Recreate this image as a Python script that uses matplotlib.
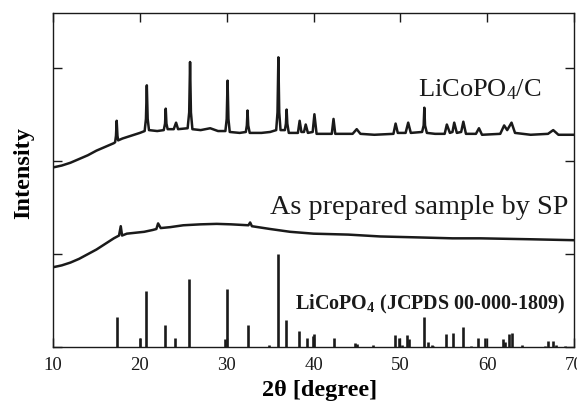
import matplotlib
matplotlib.use("Agg")
import matplotlib.pyplot as plt

plt.rcParams['font.family'] = ['Liberation Serif', 'DejaVu Serif']
plt.rcParams['mathtext.fontset'] = 'custom'
plt.rcParams['mathtext.rm'] = 'Liberation Serif'
plt.rcParams['mathtext.it'] = 'Liberation Serif:italic'
plt.rcParams['mathtext.bf'] = 'Liberation Serif:bold'

# LiCoPO4/C pattern (2theta, intensity offset units)
coated_x = [10.0, 11.0, 12.0, 13.0, 14.0, 15.0, 16.0, 17.0, 17.15, 17.25, 17.33, 17.42, 17.5, 18.0,
            19.0, 20.0, 20.55, 20.7, 20.8, 20.9, 21.05, 22.0, 22.75, 22.9, 22.98, 23.06, 23.2,
            23.9, 24.17, 24.4, 25.5, 25.68, 25.78, 25.88, 26.05, 27.0, 28.1, 29.0, 29.85, 30.0,
            30.1, 30.2, 30.35, 31.5, 32.2, 32.32, 32.4, 32.48, 32.65, 34.0, 35.0, 35.7, 35.85,
            35.95, 36.05, 36.2, 36.7, 36.82, 36.9, 36.98, 37.15, 38.2, 38.4, 38.6, 38.9, 39.1,
            39.35, 39.9, 40.1, 40.35, 42.1, 42.3, 42.5, 44.5, 44.97, 45.4, 47.0, 49.2, 49.45, 49.7,
            50.6, 50.9, 51.2, 52.5, 52.68, 52.76, 52.84, 53.05, 54.0, 55.1, 55.35, 55.7, 56.0, 56.2,
            56.5, 57.0, 57.25, 57.55, 58.7, 59.05, 59.4, 61.5, 61.95, 62.3, 62.55, 62.8, 63.2, 65.0,
            67.0, 67.6, 68.2, 70.0]
coated_y = [1.93, 1.95, 1.98, 2.02, 2.06, 2.11, 2.15, 2.19, 2.20, 2.27, 2.43, 2.27, 2.22, 2.24,
            2.27, 2.30, 2.32, 2.45, 2.81, 2.45, 2.33, 2.32, 2.33, 2.40, 2.56, 2.40, 2.34,
            2.34, 2.41, 2.34, 2.35, 2.52, 3.06, 2.52, 2.34, 2.33, 2.35, 2.32, 2.32, 2.45,
            2.86, 2.45, 2.31, 2.30, 2.31, 2.38, 2.54, 2.38, 2.30, 2.30, 2.31, 2.33, 2.52,
            3.11, 2.52, 2.33, 2.33, 2.40, 2.55, 2.40, 2.30, 2.30, 2.43, 2.31, 2.31, 2.39,
            2.30, 2.31, 2.50, 2.29, 2.29, 2.45, 2.29, 2.29, 2.34, 2.29, 2.28, 2.29, 2.40, 2.30,
            2.30, 2.41, 2.30, 2.31, 2.38, 2.57, 2.38, 2.30, 2.29, 2.29, 2.39, 2.30, 2.31, 2.41,
            2.30, 2.31, 2.42, 2.29, 2.29, 2.35, 2.28, 2.29, 2.38, 2.33, 2.37, 2.41, 2.30, 2.28,
            2.29, 2.33, 2.28, 2.28]

# As prepared sample by SP
asprep_x = [10.0, 11.0, 12.0, 13.0, 14.0, 15.0, 16.0, 17.0, 17.6, 17.8, 17.95, 18.5, 19.5, 20.5,
            21.5, 21.9, 22.1, 22.4, 23.5, 25.0, 27.0, 28.85, 30.5, 32.5, 32.7, 32.9, 35.0, 37.3,
            40.0, 44.0, 47.7, 52.0, 56.0, 59.2, 65.0, 70.0]
asprep_y = [0.86, 0.88, 0.91, 0.95, 1.00, 1.05, 1.11, 1.17, 1.20, 1.30, 1.20, 1.22, 1.23, 1.24,
            1.26, 1.27, 1.33, 1.28, 1.29, 1.31, 1.32, 1.325, 1.32, 1.31, 1.34, 1.30, 1.27, 1.24,
            1.22, 1.21, 1.19, 1.18, 1.17, 1.17, 1.16, 1.15]

# JCPDS reference sticks
ref_pos = [17.33, 20.0, 20.75, 22.93, 24.1, 25.7, 29.8, 30.07, 32.46, 34.9, 35.9, 36.87, 38.33,
           39.3, 39.9, 40.1, 42.3, 44.8, 45.0, 46.9, 49.4, 49.85, 50.2, 50.8, 51.0, 52.76, 53.2,
           53.6, 53.8, 55.2, 56.1, 57.2, 58.1, 58.98, 59.8, 61.86, 62.1, 62.55, 62.8, 63.97,
           66.6, 67.05, 67.6, 67.9, 68.97]
ref_int = [0.33, 0.10, 0.61, 0.24, 0.10, 0.73, 0.09, 0.63, 0.245, 0.03, 1.0, 0.29, 0.18,
           0.10, 0.12, 0.145, 0.105, 0.05, 0.04, 0.03, 0.135, 0.10, 0.03, 0.13, 0.09, 0.33, 0.06,
           0.03, 0.02, 0.145, 0.16, 0.22, 0.02, 0.105, 0.10, 0.09, 0.06, 0.14, 0.15, 0.025,
           0.02, 0.07, 0.07, 0.03, 0.02]

xticks = [10, 20, 30, 40, 50, 60, 70]
yticks = [0, 1, 2, 3]

fig = plt.figure(figsize=(5.77, 4.05), dpi=100)
ax = fig.add_axes([0.0919, 0.142, 0.903, 0.827])

ax.plot(coated_x, coated_y, color='#1a1a1a', lw=1.8)
ax.plot(asprep_x, asprep_y, color='#1a1a1a', lw=1.8)
ax.vlines(ref_pos, 0, ref_int, color='#1a1a1a', lw=1.9)

ax.set_xlim(10, 70)
ax.set_ylim(0, 3.59)
ax.set_xticks(xticks)
ax.set_xticklabels([str(t) for t in xticks])
ax.set_yticks(yticks)
ax.set_yticklabels([])
ax.tick_params(direction='in', length=6.5, width=1, top=True, right=True,
               labelsize=13.5, pad=7, colors='#1a1a1a')
for s in ax.spines.values():
    s.set_linewidth(1.0)
    s.set_color('#1a1a1a')

ax.set_xlabel('2θ [degree]', fontsize=17.5, fontweight='bold')
ax.xaxis.set_label_coords(0.512, -0.097)
ax.set_ylabel('Intensity', fontsize=17.5, fontweight='bold')
ax.yaxis.set_label_coords(-0.037, 0.52)

ax.text(52.04, 2.69, r'LiCoPO$_4$/C', fontsize=19, ha='left', va='baseline', color='#1a1a1a')
ax.text(34.99, 1.43, 'As prepared sample by SP', fontsize=20.3, ha='left', va='baseline', color='#1a1a1a')
ax.text(37.87, 0.41, r'LiCoPO$_\mathbf{4}$ (JCPDS 00-000-1809)', fontsize=14.5, fontweight='bold',
        ha='left', va='baseline', color='#1a1a1a')

fig.savefig('out.png', dpi=100)
